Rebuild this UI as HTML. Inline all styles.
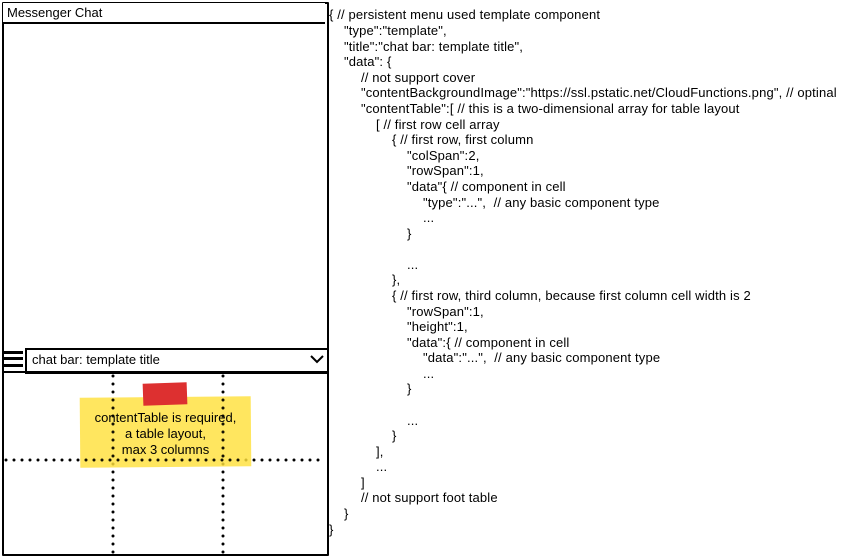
<!DOCTYPE html>
<html><head><meta charset="utf-8"><style>
body{margin:0;width:844px;height:559px;background:#fff;position:relative;overflow:hidden;font-family:"Liberation Sans",sans-serif;color:#000}
.a{position:absolute}
.c{position:absolute;font-size:13px;letter-spacing:0.15px;white-space:pre;line-height:14px}
</style></head><body>
<div class="a" style="left:2px;top:2px;width:323px;height:550px;border:2px solid #000;border-radius:1px"></div>
<div class="a" style="left:3px;top:3px;width:322px;height:19px;border-bottom:2px solid #000;background:#fff"></div>
<div class="a" style="left:7px;top:5px;font-size:13px">Messenger Chat</div>
<div class="a" style="left:3px;top:351px;width:20px;height:3px;background:#000"></div>
<div class="a" style="left:3px;top:357px;width:20px;height:3px;background:#000"></div>
<div class="a" style="left:3px;top:364px;width:20px;height:3px;background:#000"></div>
<div class="a" style="left:25px;top:348px;width:300px;height:22px;border:2px solid #000;background:#fff"></div>
<div class="a" style="left:32px;top:352px;font-size:13px">chat bar: template title</div>
<svg class="a" style="left:0;top:0" width="340" height="559">
<polyline points="311,356 317,362 323,356" fill="none" stroke="#000" stroke-width="2"/>
<line x1="2" y1="372" x2="327" y2="372" stroke="#000" stroke-width="2"/>
<g stroke="#000" stroke-width="3" stroke-dasharray="0 8" stroke-linecap="round">
<line x1="113" y1="376" x2="113" y2="553"/>
<line x1="223" y1="376" x2="223" y2="553"/>
<line x1="6" y1="460" x2="326" y2="460"/>
</g>
</svg>
<div class="a" style="left:80px;top:397px;width:171px;height:70px;background:rgba(255,224,60,0.82);transform:rotate(-0.5deg)"></div>
<div class="a" style="left:143px;top:383px;width:44px;height:22px;background:#dd3030;transform:rotate(-2deg)"></div>
<svg class="a" style="left:0;top:0" width="340" height="559">
<g stroke="#000" stroke-width="3" stroke-dasharray="0 8" stroke-linecap="round" opacity="0.9">
<line x1="113" y1="400" x2="113" y2="464"/>
<line x1="223" y1="400" x2="223" y2="464"/>
<line x1="86" y1="460" x2="246" y2="460"/>
</g></svg>
<div class="a" style="left:80px;top:410px;width:171px;text-align:center;font-size:13px;line-height:16px">contentTable is required,<br>a table layout,<br>max 3 columns</div>
<div class="c" style="left:329px;top:8px">{ // persistent menu used template component</div>
<div class="c" style="left:344px;top:24px">"type":"template",</div>
<div class="c" style="left:344px;top:40px">"title":"chat bar: template title",</div>
<div class="c" style="left:344px;top:55px">"data": {</div>
<div class="c" style="left:361px;top:71px">// not support cover</div>
<div class="c" style="left:361px;top:86px">"contentBackgroundImage":"https://ssl.pstatic.net/CloudFunctions.png", // optinal</div>
<div class="c" style="left:361px;top:102px">"contentTable":[ // this is a two-dimensional array for table layout</div>
<div class="c" style="left:376px;top:118px">[ // first row cell array</div>
<div class="c" style="left:392px;top:133px">{ // first row, first column</div>
<div class="c" style="left:407px;top:149px">"colSpan":2,</div>
<div class="c" style="left:407px;top:164px">"rowSpan":1,</div>
<div class="c" style="left:407px;top:180px">"data"{ // component in cell</div>
<div class="c" style="left:423px;top:196px">"type":"...",  // any basic component type</div>
<div class="c" style="left:423px;top:211px">...</div>
<div class="c" style="left:407px;top:227px">}</div>
<div class="c" style="left:407px;top:258px">...</div>
<div class="c" style="left:392px;top:273px">},</div>
<div class="c" style="left:392px;top:289px">{ // first row, third column, because first column cell width is 2</div>
<div class="c" style="left:407px;top:305px">"rowSpan":1,</div>
<div class="c" style="left:407px;top:320px">"height":1,</div>
<div class="c" style="left:407px;top:336px">"data":{ // component in cell</div>
<div class="c" style="left:423px;top:351px">"data":"...",  // any basic component type</div>
<div class="c" style="left:423px;top:367px">...</div>
<div class="c" style="left:407px;top:382px">}</div>
<div class="c" style="left:407px;top:414px">...</div>
<div class="c" style="left:392px;top:429px">}</div>
<div class="c" style="left:376px;top:445px">],</div>
<div class="c" style="left:376px;top:460px">...</div>
<div class="c" style="left:361px;top:476px">]</div>
<div class="c" style="left:361px;top:491px">// not support foot table</div>
<div class="c" style="left:344px;top:507px">}</div>
<div class="c" style="left:329px;top:523px">}</div>
</body></html>
